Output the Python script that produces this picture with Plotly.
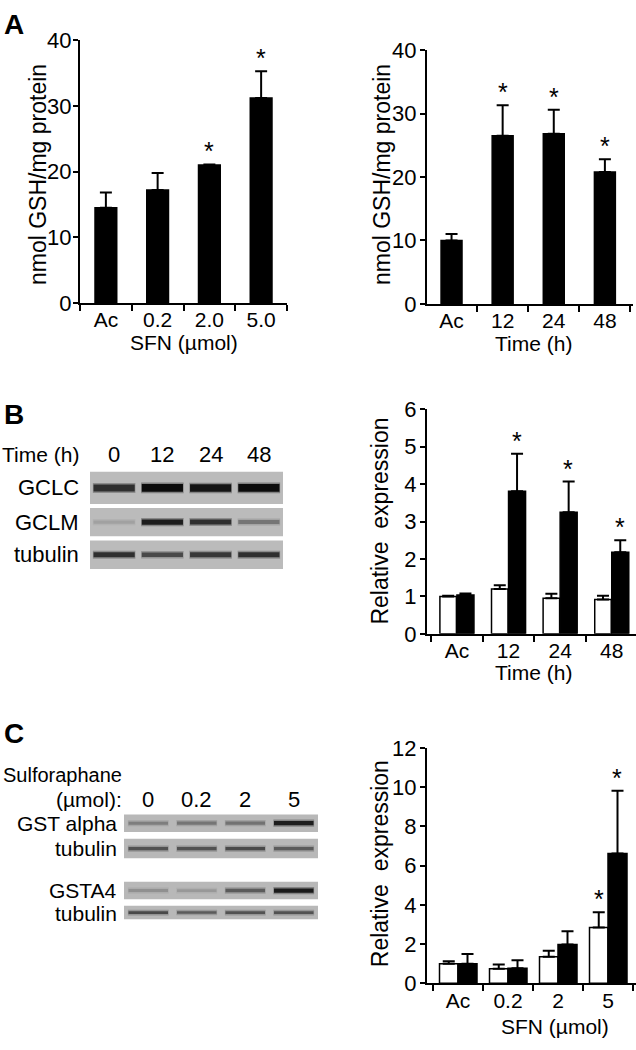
import plotly.graph_objects as go

W, H = 636, 1050
FONT = "Liberation Sans, Arial, Helvetica, sans-serif"

# ---------------- data ----------------
sfn_doses = ["Ac", "0.2", "2.0", "5.0"]
gsh_by_dose = [14.5, 17.2, 21.0, 31.2]
gsh_by_dose_err = [2.3, 2.6, 0.1, 4.1]
gsh_by_dose_sig = [False, False, True, True]

time_points = ["Ac", "12", "24", "48"]
gsh_by_time = [10.0, 26.5, 26.8, 20.8]
gsh_by_time_err = [1.0, 4.8, 3.8, 2.0]
gsh_by_time_sig = [False, True, True, True]

gcl_time_points = ["Ac", "12", "24", "48"]
gclc_expr = [1.0, 1.2, 0.95, 0.92]
gclc_expr_err = [0.02, 0.1, 0.12, 0.1]
gclm_expr = [1.04, 3.81, 3.25, 2.18]
gclm_expr_err = [0.04, 1.0, 0.82, 0.32]
gclm_sig = [False, True, True, True]

gst_doses = ["Ac", "0.2", "2", "5"]
gst_alpha_expr = [1.0, 0.74, 1.36, 2.85]
gst_alpha_err = [0.13, 0.22, 0.3, 0.78]
gst_alpha_sig = [False, False, False, True]
gsta4_expr = [1.0, 0.77, 1.98, 6.62]
gsta4_err = [0.5, 0.4, 0.68, 3.2]
gsta4_sig = [False, False, False, True]

blot_b_lanes = ["0", "12", "24", "48"]
blot_b_rows = ["GCLC", "GCLM", "tubulin"]
blot_b_gclc = [0.8, 1.0, 0.95, 1.0]
blot_b_gclm = [0.15, 0.9, 0.8, 0.4]
blot_b_tubulin = [0.8, 0.65, 0.75, 0.8]

blot_c_lanes = ["0", "0.2", "2", "5"]
blot_c_rows = ["GST alpha", "tubulin", "GSTA4", "tubulin"]
blot_c_gst_alpha = [0.35, 0.4, 0.42, 0.9]
blot_c_tubulin1 = [0.6, 0.6, 0.65, 0.55]
blot_c_gsta4 = [0.25, 0.2, 0.55, 0.92]
blot_c_tubulin2 = [0.65, 0.55, 0.6, 0.6]


# ---------------- helpers ----------------
def px_x(p):
    return p / W


def px_y(p):
    return 1 - p / H


fig = go.Figure()
annotations = []
shapes = []

ERR = dict(type="data", symmetric=False, color="black", thickness=2, width=6)


def add_bar(axn, cats, vals, errs, fill, width, offset=None):
    xa = "x" if axn == 1 else f"x{axn}"
    ya = "y" if axn == 1 else f"y{axn}"
    kw = {}
    if offset is not None:
        kw["offset"] = offset
    fig.add_trace(go.Bar(
        x=cats, y=vals, xaxis=xa, yaxis=ya, width=width,
        marker=dict(color=fill, line=dict(color="black", width=1.5)),
        error_y=dict(ERR, array=errs, arrayminus=[0] * len(errs)),
        showlegend=False, hoverinfo="skip", **kw))


def add_stars(axn, cats, vals, errs, sig, xshift=0):
    xa = "x" if axn == 1 else f"x{axn}"
    ya = "y" if axn == 1 else f"y{axn}"
    for i, (c, v, e, s) in enumerate(zip(cats, vals, errs, sig)):
        if s:
            annotations.append(dict(
                xref=xa, yref=ya, x=i, y=v + e, text="*", showarrow=False,
                xanchor="center", yanchor="middle", xshift=xshift, yshift=13,
                font=dict(family=FONT, size=25, color="black")))


def text(x, y, s, size=22, xanchor="center", angle=0, bold=False, xref="paper", yref="paper"):
    annotations.append(dict(
        xref=xref, yref=yref, x=x, y=y, text=f"<b>{s}</b>" if bold else s,
        showarrow=False, xanchor=xanchor, yanchor="middle", textangle=angle,
        font=dict(family=FONT, size=size, color="black")))


# ---------------- panel A left ----------------
add_bar(1, sfn_doses, gsh_by_dose, gsh_by_dose_err, "black", 0.42)
add_stars(1, sfn_doses, gsh_by_dose, gsh_by_dose_err, gsh_by_dose_sig)
# ---------------- panel A right ----------------
add_bar(2, time_points, gsh_by_time, gsh_by_time_err, "black", 0.41)
add_stars(2, time_points, gsh_by_time, gsh_by_time_err, gsh_by_time_sig)
# ---------------- panel B chart ----------------
add_bar(3, gcl_time_points, gclc_expr, gclc_expr_err, "white", 0.32, -0.33)
add_bar(3, gcl_time_points, gclm_expr, gclm_expr_err, "black", 0.33, 0.0)
add_stars(3, gcl_time_points, gclm_expr, gclm_expr_err, gclm_sig, xshift=8)
# ---------------- panel C chart ----------------
add_bar(4, gst_doses, gst_alpha_expr, gst_alpha_err, "white", 0.37, -0.37)
add_bar(4, gst_doses, gsta4_expr, gsta4_err, "black", 0.38, 0.0)
add_stars(4, gst_doses, gst_alpha_expr, gst_alpha_err, gst_alpha_sig, xshift=-9)
add_stars(4, gst_doses, gsta4_expr, gsta4_err, gsta4_sig, xshift=9)


# ---------------- western blots ----------------
def add_blot(axn, rows_intensity, row_pos, half_h, bg, band_half, thick):
    xa, ya = f"x{axn}", f"y{axn}"
    for r, (ints, yp) in enumerate(zip(rows_intensity, row_pos)):
        n = len(ints)
        shapes.append(dict(type="rect", xref=xa, yref=ya, x0=-0.5, x1=n - 0.5,
                           y0=yp - half_h[r], y1=yp + half_h[r],
                           fillcolor=bg, line=dict(width=0), layer="below"))
        for lane, inten in enumerate(ints):
            g = int(188 - (188 - 12) * inten)
            gb = int(188 - (188 - 12) * inten * 0.55)
            fig.add_trace(go.Scatter(
                x=[lane - band_half, lane + band_half], y=[yp, yp], xaxis=xa, yaxis=ya,
                mode="lines", line=dict(color=f"rgb({gb},{gb},{gb})", width=thick[r] * (0.6 + 0.5 * inten) + 3),
                opacity=0.6, showlegend=False, hoverinfo="skip"))
            fig.add_trace(go.Scatter(
                x=[lane - band_half * 0.97, lane + band_half * 0.97], y=[yp, yp], xaxis=xa, yaxis=ya,
                mode="lines", line=dict(color=f"rgb({g},{g},{g})", width=thick[r] * (0.6 + 0.5 * inten)),
                showlegend=False, hoverinfo="skip"))


# blot B: y in pixel offsets from top of blot area (469 px)
add_blot(5, [blot_b_gclc, blot_b_gclm, blot_b_tubulin], [18.5, 53.5, 87],
         [16.5, 14.5, 14.5], "#bbbbbb", 0.44, [7, 5, 5])
# blot C: y in pixel offsets from top of blot area (818 px)
add_blot(6, [blot_c_gst_alpha, blot_c_tubulin1, blot_c_gsta4, blot_c_tubulin2],
         [13, 39, 82, 104.5], [9, 10, 9, 7], "#b8b8b8", 0.42, [4, 3.5, 4, 3])


# ---------------- layout: axes ----------------
def xax(d0, d1, rng):
    return dict(domain=[px_x(d0), px_x(d1)], type="category", range=rng,
                showline=True, linecolor="black", linewidth=2, ticks="outside",
                tickson="boundaries", ticklen=6, tickwidth=2, tickcolor="black",
                showgrid=False, zeroline=False, fixedrange=True, ticklabelstandoff=-3,
                tickfont=dict(family=FONT, size=21, color="black"))


def yax(p_bottom, p_top, rng, dtick, anchor, standoff):
    return dict(domain=[px_y(p_bottom), px_y(p_top)], range=rng, dtick=dtick,
                showline=True, linecolor="black", linewidth=2, ticks="outside",
                ticklen=5, tickwidth=2, tickcolor="black", showgrid=False,
                zeroline=False, fixedrange=True, anchor=anchor, ticklabelstandoff=standoff,
                tickfont=dict(family=FONT, size=22, color="black"))


layout = dict(
    width=W, height=H, margin=dict(l=0, r=0, t=0, b=0),
    paper_bgcolor="white", plot_bgcolor="rgba(0,0,0,0)",
    barmode="overlay", showlegend=False,
    xaxis=dict(xax(80, 287, [-0.5, 3.5]), anchor="y"),
    yaxis=yax(298, 29, [0, 40], 10, "x", -3),
    xaxis2=dict(xax(427, 633, [-0.48, 3.55]), anchor="y2"),
    yaxis2=yax(299, 39, [0, 40], 10, "x2", -1),
    xaxis3=dict(xax(427, 636, [-0.58, 3.47]), anchor="y3"),
    yaxis3=yax(637, 407, [0, 6], 1, "x3", -1),
    xaxis4=dict(xax(427, 636, [-0.62, 3.56]), anchor="y4"),
    yaxis4=yax(995, 754, [0, 12], 2, "x4", -1),
    xaxis5=dict(domain=[px_x(90), px_x(283)], range=[-0.5, 3.5], visible=False, anchor="y5", fixedrange=True),
    yaxis5=dict(domain=[px_y(572), px_y(469)], range=[103, 0], visible=False, anchor="x5", fixedrange=True),
    xaxis6=dict(domain=[px_x(124), px_x(318)], range=[-0.5, 3.5], visible=False, anchor="y6", fixedrange=True),
    yaxis6=dict(domain=[px_y(932), px_y(818)], range=[114, 0], visible=False, anchor="x6", fixedrange=True),
)

# ---------------- text ----------------
text(px_x(2), px_y(13), "A", size=28, xanchor="left", bold=True)
text(px_x(2), px_y(412), "B", size=28, xanchor="left", bold=True)
text(px_x(2), px_y(739), "C", size=28, xanchor="left", bold=True)

text(px_x(38), px_y(167), "nmol GSH/mg protein", size=23, angle=-90)
text(px_x(382), px_y(167), "nmol GSH/mg protein", size=23, angle=-90)
text(px_x(380), px_y(522), "Relative\u00a0\u00a0expression", size=23, angle=-90)
text(px_x(380), px_y(873), "Relative\u00a0\u00a0expression", size=23, angle=-90)

text(px_x(184), px_y(339), "SFN (µmol)", size=21)
text(px_x(533), px_y(340), "Time (h)", size=21)
text(px_x(533), px_y(677), "Time (h)", size=21)
text(px_x(555), px_y(1039), "SFN (µmol)", size=21)

# blot B labels
text(px_x(81), px_y(453), "Time (h)", size=21, xanchor="right")
for i, lab in enumerate(blot_b_lanes):
    text(i, px_y(453), lab, size=22, xref="x5")
for lab, yp in zip(blot_b_rows, [18.5, 53.5, 87]):
    text(px_x(81), yp, lab, size=22, xanchor="right", yref="y5")

# blot C labels
text(px_x(124), px_y(782), "Sulforaphane", size=20, xanchor="right")
text(px_x(124), px_y(807), "(µmol):", size=21, xanchor="right")
for i, lab in enumerate(blot_c_lanes):
    text(i, px_y(807), lab, size=22, xref="x6")
for lab, yp in zip(blot_c_rows, [13, 39, 81.5, 105.5]):
    text(px_x(119), yp, lab, size=21, xanchor="right", yref="y6")

layout["annotations"] = annotations
layout["shapes"] = shapes
fig.update_layout(**layout)
fig.write_html("out.html", config={"displayModeBar": False},
               post_script="document.body.style.margin='0';document.body.style.padding='0';")
